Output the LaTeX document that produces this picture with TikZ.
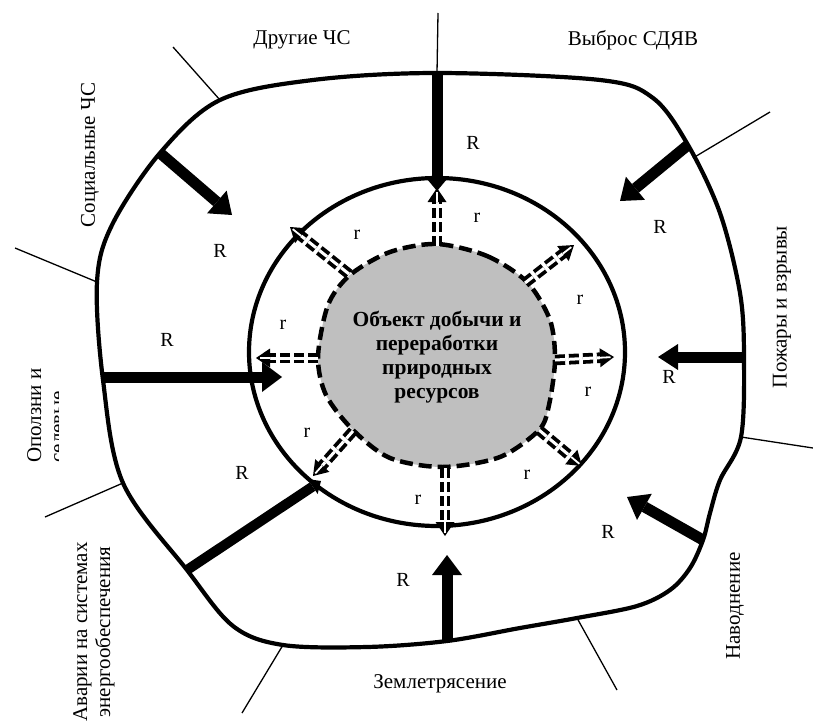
\documentclass[tikz,border=0pt]{standalone}
\usepackage{fontspec}
\setmainfont{Liberation Serif}
\usetikzlibrary{arrows.meta,calc}
\newcommand\rarr[2]{%
  \draw[rshaft] (#1) -- ($(#2)!11pt!(#1)$);
  \draw[rhead] ($(#2)!12pt!(#1)$) -- (#2);
  \draw[white,line width=1.8pt] ($(#2)!14pt!(#1)$) -- ($(#2)!3.5pt!(#1)$);
}
\begin{document}
\begin{tikzpicture}[x=1pt,y=-1pt,
  bnd/.style={line width=4.2pt},
  tickline/.style={line width=1.3pt},
  Rarrow/.style={line width=11pt,-{Triangle[length=20pt,width=30pt,line width=0pt]}},
  rshaft/.style={double=white,double distance=3pt,line width=3.8pt,dash pattern=on 10pt off 4pt},
  rhead/.style={line width=1pt,-{Triangle[length=14pt,width=19pt,line width=0pt]}},
  lbl/.style={font=\fontsize{21}{23}\selectfont,inner sep=0pt},
  Rlbl/.style={font=\fontsize{20}{24}\selectfont,inner sep=0pt},
  rlbl/.style={font=\fontsize{20}{24}\selectfont,inner sep=0pt},
  center/.style={font=\fontsize{21.5}{24}\selectfont\bfseries,align=center,inner sep=0pt}]
\useasboundingbox (0,0) rectangle (813,722);
\clip (0,0) rectangle (813,722);
% boundary coordinates
\coordinate (bTL) at (220,100);
\coordinate (bT) at (437,73);
\coordinate (bTR) at (688,145);
\coordinate (bTRt) at (693,158);
\coordinate (bR) at (744,357);
\coordinate (bRt) at (741,437);
\coordinate (bBR) at (703,540);
\coordinate (bBRt) at (577,618);
\coordinate (bB) at (447,641);
\coordinate (bBLt) at (283,645);
\coordinate (bBL) at (187,570);
\coordinate (bLt) at (123,483);
\coordinate (bL) at (103,377);
\coordinate (bULt) at (97,282);
\coordinate (bUL) at (160,153);
% outer blob
\draw[bnd] plot[smooth cycle,tension=0.55] coordinates {
 (220,100) (313,80) (437,73) (600,80) (653,98) (688,145) (720,213) (740,293)
 (744,357) (741,437) (720,480) (710,513) (703,540) (690,568) (670,590) (637,606)
 (577,618) (520,628) (447,641) (367,647) (283,645) (233,626) (187,570) (123,483)
 (103,380) (97,282) (112,225) (160,153)};
% tick lines
\coordinate (t1) at (173,47);
\coordinate (t2) at (438,13);
\coordinate (t3) at (770,112);
\coordinate (t4) at (813,448);
\coordinate (t5) at (617,690);
\coordinate (t6) at (242,713);
\coordinate (t7) at (45,517);
\coordinate (t8) at (15,248);
\draw[tickline] (t1) -- (bTL);
\draw[tickline] (t2) -- (bT);
\draw[tickline] (t3) -- (bTRt);
\draw[tickline] (t4) -- (bRt);
\draw[tickline] (t5) -- (bBRt);
\draw[tickline] (t6) -- (bBLt);
\draw[tickline] (t7) -- (bLt);
\draw[tickline] (t8) -- (bULt);
% inner ellipse
\coordinate (c) at (437,352);
\draw[bnd] (c) ellipse [x radius=188pt, y radius=174pt];
% central object
\fill[gray!50] plot[smooth cycle] coordinates {
 (437,244) (487,256) (527,282) (550,320) (555,360) (549,405) (539,430) (500,457)
 (443,467) (390,458) (353,430) (326,395) (318,357) (328,305) (350,275) (390,252)};
\draw[line width=4.5pt,dash pattern=on 13pt off 6pt] plot[smooth cycle] coordinates {
 (437,244) (487,256) (527,282) (550,320) (555,360) (549,405) (539,430) (500,457)
 (443,467) (390,458) (353,430) (326,395) (318,357) (328,305) (350,275) (390,252)};
\node[center] (obj) at (437,357) {Объект добычи и\\переработки\\природных\\ресурсов};
% R arrows
\coordinate (e1) at (437,191);
\coordinate (e2) at (620,201);
\coordinate (e3) at (658,357);
\coordinate (e4) at (627,497);
\coordinate (e5) at (447,555);
\coordinate (e6) at (321,481);
\coordinate (e7) at (282,377);
\coordinate (e8) at (232,215);
\draw[line width=11pt,-{Triangle[length=12pt,width=20pt,line width=0pt]}] (bT) -- (e1);
\draw[Rarrow] (bTR) -- (e2);
\draw[line width=11pt,-{Triangle[length=20pt,width=26pt,line width=0pt]}] (bR) -- (e3);
\draw[Rarrow] (bBR) -- (e4);
\draw[Rarrow] (bB) -- (e5);
\draw[line width=10pt,-{Triangle[length=10pt,width=18pt,line width=0pt]}] (bBL) -- (e6);
\draw[Rarrow] (bL) -- (e7);
\draw[Rarrow] (bUL) -- (e8);
% r arrows
\coordinate (s1) at (437,246); \coordinate (f1) at (437,188);
\coordinate (s2) at (349,274); \coordinate (f2) at (290,227);
\coordinate (s3) at (318,358); \coordinate (f3) at (256,358);
\coordinate (s4) at (353,431); \coordinate (f4) at (313,476);
\coordinate (s5) at (445,468); \coordinate (f5) at (445,536);
\coordinate (s6) at (539,430); \coordinate (f6) at (582,466);
\coordinate (s7) at (555,360); \coordinate (f7) at (614,357);
\coordinate (s8) at (525,283); \coordinate (f8) at (574,245);
\rarr{s1}{f1}
\rarr{s2}{f2}
\rarr{s3}{f3}
\rarr{s4}{f4}
\rarr{s5}{f5}
\rarr{s6}{f6}
\rarr{s7}{f7}
\rarr{s8}{f8}
% R labels
\node[Rlbl] (R1) at (473,143) {R};
\node[Rlbl] (R2) at (660,227) {R};
\node[Rlbl] (R3) at (669,377) {R};
\node[Rlbl] (R4) at (608,532) {R};
\node[Rlbl] (R5) at (403,580) {R};
\node[Rlbl] (R6) at (242,473) {R};
\node[Rlbl] (R7) at (167,340) {R};
\node[Rlbl] (R8) at (220,251) {R};
% r labels
\node[rlbl] (r1) at (477,218) {r};
\node[rlbl] (r2) at (357,235) {r};
\node[rlbl] (r3) at (580,300) {r};
\node[rlbl] (r4) at (283,325) {r};
\node[rlbl] (r5) at (588,392) {r};
\node[rlbl] (r6) at (307,433) {r};
\node[rlbl] (r7) at (527,475) {r};
\node[rlbl] (r8) at (418,500) {r};
% outer labels
\node[lbl] (l1) at (302,40) {Другие ЧС};
\node[lbl] (l2) at (633,40) {Выброс СДЯВ};
\node[lbl,rotate=90] (l3) at (90,155) {Социальные ЧС};
\node[lbl,rotate=90] (l4) at (782,307) {Пожары и взрывы};
\node[lbl,rotate=90] (l5) at (735,606) {Наводнение};
\node[lbl] (l6) at (440,684) {Землетрясение};
\node[lbl,rotate=90,align=center] (l7) at (94,632) {Аварии на системах\\энергообеспечения};
\begin{scope}
\clip (0,300) rectangle (58,480);
\node[lbl,rotate=90,align=left,anchor=north west] (l8) at (27,463) {Оползни и\\селевые};
\end{scope}
\end{tikzpicture}
\end{document}
